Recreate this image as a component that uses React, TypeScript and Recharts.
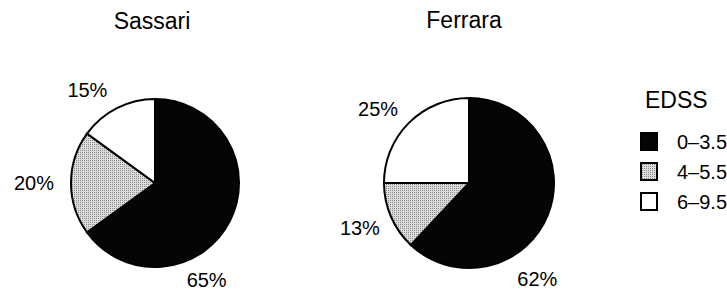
import React from "react";
import { PieChart, Pie, Cell } from "recharts";

const categories = ["0–3.5", "4–5.5", "6–9.5"];
const sassariValues = [65, 20, 15];
const ferraraValues = [62, 13, 25];
const cityNames = ["Sassari", "Ferrara"];
const legendTitle = "EDSS";

const FILLS = ["#050505", "url(#stipple)", "#ffffff"];
const FONT = "'Liberation Sans', Arial, Helvetica, sans-serif";

// label placement tweaks (angle shift from slice mid-angle in degrees, distance from centre)
const SASSARI_LABEL = [
  { shift: -35, dist: 110 },
  { shift: 0, dist: 121 },
  { shift: 9, dist: 115 },
];
const FERRARA_LABEL = [
  { shift: -33, dist: 118 },
  { shift: -1, dist: 118 },
  { shift: 6, dist: 117 },
];

const sassariData = categories.map((c, i) => ({ name: c, value: sassariValues[i] }));
const ferraraData = categories.map((c, i) => ({ name: c, value: ferraraValues[i] }));

const RAD = Math.PI / 180;

function makeLabel(layout: { shift: number; dist: number }[]) {
  return (props: any) => {
    const { cx, cy, midAngle, index, value } = props;
    const l = layout[index];
    const a = (midAngle + l.shift) * RAD;
    const x = cx + l.dist * Math.cos(a);
    const y = cy - l.dist * Math.sin(a);
    return (
      <text
        key={`lbl-${index}`}
        x={x}
        y={y}
        textAnchor="middle"
        dominantBaseline="central"
        fontFamily={FONT}
        fontSize={20}
        fill="#000"
      >
        {`${value}%`}
      </text>
    );
  };
}

export default function App() {
  return (
    <div style={{ position: "absolute", left: 0, top: 0, width: 727, height: 291, background: "#fff" }}>
      <PieChart width={727} height={291} margin={{ top: 0, right: 0, bottom: 0, left: 0 }}>
        <defs>
          <pattern id="stipple" width="2" height="2" patternUnits="userSpaceOnUse">
            <rect width="2" height="2" fill="#dcdcdc" />
            <rect width="1" height="1" fill="#8a8a8a" />
          </pattern>
        </defs>
        <Pie
          data={sassariData}
          dataKey="value"
          cx={155}
          cy={183}
          outerRadius={84}
          startAngle={90}
          endAngle={-270}
          stroke="#000"
          strokeWidth={2}
          labelLine={false}
          label={makeLabel(SASSARI_LABEL)}
          isAnimationActive={false}
        >
          {sassariData.map((d, i) => (
            <Cell key={d.name} fill={FILLS[i]} />
          ))}
        </Pie>
        <Pie
          data={ferraraData}
          dataKey="value"
          cx={469}
          cy={183}
          outerRadius={85}
          startAngle={90}
          endAngle={-270}
          stroke="#000"
          strokeWidth={2}
          labelLine={false}
          label={makeLabel(FERRARA_LABEL)}
          isAnimationActive={false}
        >
          {ferraraData.map((d, i) => (
            <Cell key={d.name} fill={FILLS[i]} />
          ))}
        </Pie>
        <text x={152} y={29} textAnchor="middle" fontFamily={FONT} fontSize={23} fill="#000">
          {cityNames[0]}
        </text>
        <text x={464} y={28} textAnchor="middle" fontFamily={FONT} fontSize={23} fill="#000">
          {cityNames[1]}
        </text>
        <text x={645} y={108} textAnchor="start" fontFamily={FONT} fontSize={23} fill="#000">
          {legendTitle}
        </text>
        {categories.map((c, i) => (
          <g key={c}>
            <rect
              x={641}
              y={133 + i * 30}
              width={16}
              height={17}
              fill={FILLS[i]}
              stroke="#000"
              strokeWidth={2}
            />
            <text
              x={677}
              y={142 + i * 30}
              dominantBaseline="central"
              fontFamily={FONT}
              fontSize={20}
              fill="#000"
            >
              {c}
            </text>
          </g>
        ))}
      </PieChart>
    </div>
  );
}
